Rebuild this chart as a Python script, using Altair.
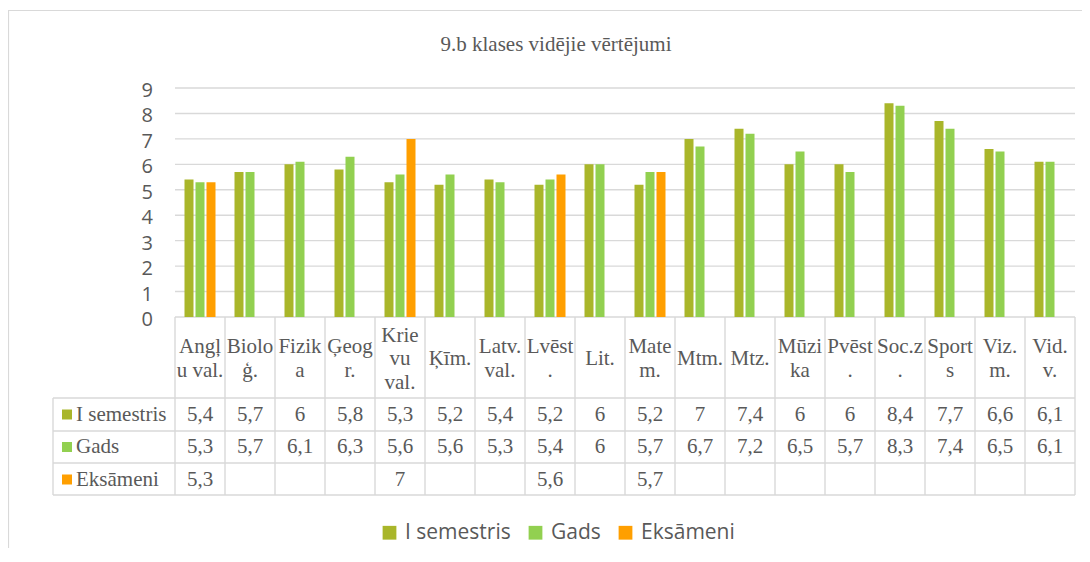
import altair as alt
import pandas as pd

categories = ["Angļu val.", "Bioloģ.", "Fizika", "Ģeogr.", "Krievu val.", "Ķīm.",
              "Latv. val.", "Lvēst.", "Lit.", "Matem.", "Mtm.", "Mtz.", "Mūzika",
              "Pvēst.", "Soc.z.", "Sports", "Viz. m.", "Vid. v."]
header_labels = ["Angļ\nu val.", "Biolo\nģ.", "Fizik\na", "Ģeog\nr.", "Krie\nvu\nval.", "Ķīm.",
                 "Latv.\nval.", "Lvēst\n.", "Lit.", "Mate\nm.", "Mtm.", "Mtz.", "Mūzi\nka",
                 "Pvēst\n.", "Soc.z\n.", "Sport\ns", "Viz.\nm.", "Vid.\nv."]
series_names = ["I semestris", "Gads", "Eksāmeni"]
sem1 = [5.4, 5.7, 6, 5.8, 5.3, 5.2, 5.4, 5.2, 6, 5.2, 7, 7.4, 6, 6, 8.4, 7.7, 6.6, 6.1]
gads = [5.3, 5.7, 6.1, 6.3, 5.6, 5.6, 5.3, 5.4, 6, 5.7, 6.7, 7.2, 6.5, 5.7, 8.3, 7.4, 6.5, 6.1]
eks = [5.3, None, None, None, 7, None, None, 5.6, None, 5.7, None, None, None, None, None, None, None, None]
y_ticks = [0, 1, 2, 3, 4, 5, 6, 7, 8, 9]
title_text = "9.b klases vidējie vērtējumi"
colors = ["#A9B62A", "#92D050", "#FF9F00"]

rows = []
for s, vals in zip(series_names, [sem1, gads, eks]):
    for c, v in zip(categories, vals):
        if v is not None:
            rows.append({"cat": c, "series": s, "value": v, "label": f"{v:g}".replace(".", ",")})
df = pd.DataFrame(rows)
cat_df = pd.DataFrame({"cat": categories, "header": header_labels})
cat_df["nlines"] = cat_df["header"].str.count("\n") + 1
tick_df = pd.DataFrame({"v": y_ticks})

GRID = "#D9D9D9"
TXT = "#595959"
SERIF = "Liberation Serif"
SANS = "Open Sans"

xscale = alt.Scale(domain=categories, range=[167, 1067], paddingInner=0, paddingOuter=0)
yscale = alt.Scale(domain=[0, 9], range=[309, 80])
cscale = alt.Scale(domain=series_names, range=colors)
legend = alt.Legend(orient="none", legendX=371, legendY=514, direction="horizontal", title=None,
                    symbolType="square", symbolSize=190, symbolStrokeWidth=0, symbolOpacity=1,
                    labelFont=SANS, labelFontSize=21, labelColor=TXT, labelOffset=5,
                    columnPadding=14, padding=0, offset=0)

X = alt.X("cat:N", scale=xscale, axis=None, sort=categories)

layers = []

# outer chart border
layers.append(alt.Chart(tick_df.head(1)).mark_rect(fill=None, stroke=GRID, strokeWidth=1.2).encode(
    x=alt.value(0.5), x2=alt.value(1100), y=alt.value(2.5), y2=alt.value(700)))

# title
layers.append(alt.Chart(pd.DataFrame({"t": [title_text]})).mark_text(
    font=SERIF, fontSize=21, color=TXT, align="center", baseline="middle").encode(
    text="t:N", x=alt.value(548), y=alt.value(37)))

# gridlines
layers.append(alt.Chart(tick_df).mark_rule(color=GRID, strokeWidth=1.4).encode(
    y=alt.Y("v:Q", scale=yscale, axis=None), x=alt.value(167), x2=alt.value(1067)))

# y labels
layers.append(alt.Chart(tick_df).mark_text(
    font=SANS, fontSize=20, color=TXT, align="right", baseline="middle", dy=3).encode(
    y=alt.Y("v:Q", scale=yscale, axis=None), x=alt.value(145), text="v:Q"))

# bars
layers.append(alt.Chart(df).mark_bar().encode(
    x=X,
    xOffset=alt.XOffset("series:N", scale=alt.Scale(domain=series_names, paddingInner=0.1818, paddingOuter=0.8636)),
    y=alt.Y("value:Q", scale=yscale, axis=None),
    color=alt.Color("series:N", scale=cscale, legend=legend)))

# table vertical lines
layers.append(alt.Chart(cat_df).mark_rule(color=GRID, strokeWidth=1.4).encode(
    x=alt.X("cat:N", scale=xscale, axis=None, sort=categories, bandPosition=0),
    y=alt.value(309), y2=alt.value(487)))
layers.append(alt.Chart(cat_df.head(1)).mark_rule(color=GRID, strokeWidth=1.4).encode(
    x=alt.value(1067), y=alt.value(309), y2=alt.value(487)))
layers.append(alt.Chart(cat_df.head(1)).mark_rule(color=GRID, strokeWidth=1.4).encode(
    x=alt.value(45), y=alt.value(390), y2=alt.value(487)))
for yy in [390, 423, 455, 487]:
    layers.append(alt.Chart(cat_df.head(1)).mark_rule(color=GRID, strokeWidth=1.4).encode(
        x=alt.value(45), x2=alt.value(1067), y=alt.value(yy)))

# header text (multi-line labels centred in the header row)
LH = 23.5
for n in sorted(cat_df["nlines"].unique()):
    sub = cat_df[cat_df["nlines"] == n]
    layers.append(alt.Chart(sub).mark_text(
        font=SERIF, fontSize=21, color=TXT, align="center", baseline="middle", lineBreak="\n",
        lineHeight=LH).encode(x=X, y=alt.value(351 - (n - 1) * LH / 2), text="header:N"))

# table rows
row_y = [406.5, 439, 471.5]
for s, ry in zip(series_names, row_y):
    sub = df[df["series"] == s]
    layers.append(alt.Chart(sub).mark_text(
        font=SERIF, fontSize=21, color=TXT, align="center", baseline="middle").encode(
        x=X, y=alt.value(ry), text="label:N"))
    one = pd.DataFrame({"series": [s]})
    layers.append(alt.Chart(one).mark_square(size=100, opacity=1).encode(
        x=alt.value(59), y=alt.value(ry),
        color=alt.Color("series:N", scale=cscale, legend=legend)))
    layers.append(alt.Chart(one).mark_text(
        font=SERIF, fontSize=21, color=TXT, align="left", baseline="middle").encode(
        x=alt.value(68), y=alt.value(ry), text="series:N"))

chart = alt.layer(*layers).properties(
    width=1074, height=540, padding=0,
    autosize=alt.AutoSizeParams(type="none"),
    background="white",
).configure_view(stroke=None)

chart.save("out.html", embed_options={"renderer": "svg", "actions": False})
